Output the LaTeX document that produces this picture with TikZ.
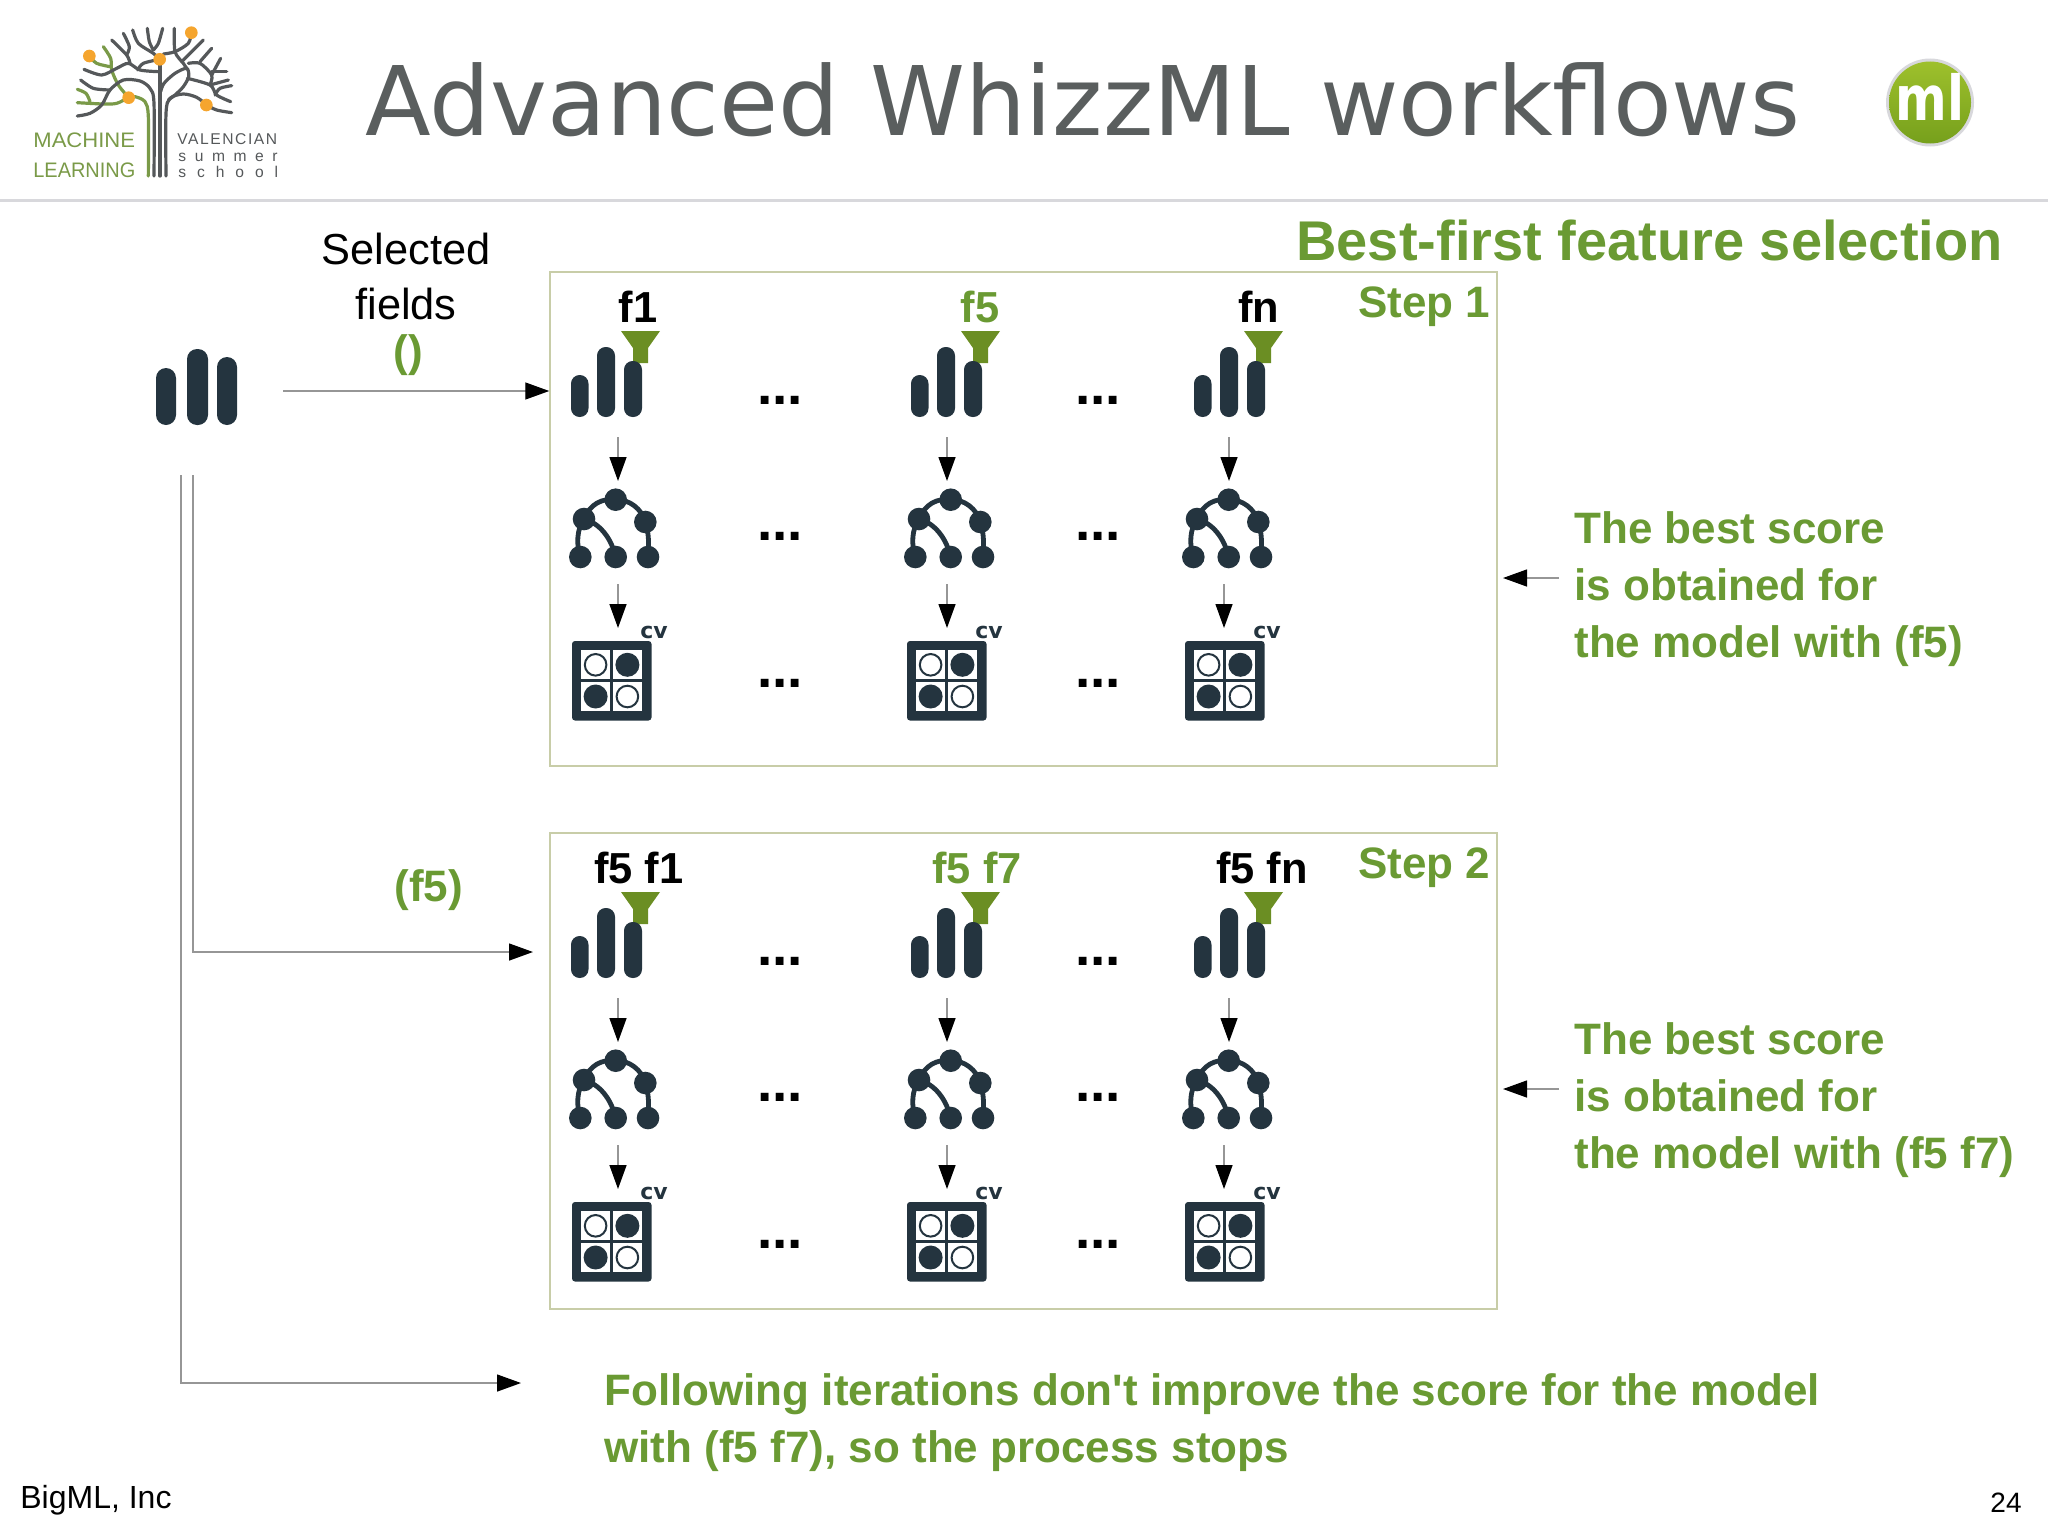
\documentclass[tikz,border=0pt]{standalone}
\usepackage{fontspec}
\setmainfont{Liberation Sans}
\newfontfamily\titlefont{DejaVu Sans}
\usetikzlibrary{arrows.meta,fit}
\definecolor{bmlgreen}{RGB}{106,154,51}
\definecolor{funnelgreen}{RGB}{107,142,35}
\definecolor{icondark}{RGB}{36,52,63}
\definecolor{framecolor}{RGB}{200,205,168}
\definecolor{titlegrey}{RGB}{90,94,94}
\definecolor{rulegrey}{RGB}{216,216,220}
\definecolor{flowgrey}{RGB}{150,150,150}
\definecolor{logogreen}{RGB}{122,154,72}
\definecolor{logogrey}{RGB}{85,88,90}
\definecolor{logoorange}{RGB}{245,165,46}
\definecolor{badgetop}{RGB}{158,192,44}
\definecolor{badgelow}{RGB}{118,160,28}
\tikzset{
  barsicon/.pic={
    \fill[funnelgreen] (50,-16) -- (89,-16) -- (77,1) -- (77,16) -- (62,16) -- (62,1) -- cycle;
    \fill[icondark,rounded corners=4.3pt] (0,28) rectangle (17.5,70);
    \fill[icondark,rounded corners=4.3pt] (26,0) rectangle (44,70);
    \fill[icondark,rounded corners=4.3pt] (53,14) rectangle (71,70);
  },
  treeicon/.pic={
    \draw[icondark,line width=2.4pt]
      (15,30) .. controls (21,15) and (33,9) .. (46.7,10.7)
      (46.7,10.7) .. controls (60,10) and (73,20) .. (76.3,33)
      (76.3,33) .. controls (80,44) and (80,56) .. (79,68)
      (15,30) .. controls (8,40) and (7,55) .. (11.3,68)
      (15,30) .. controls (30,34) and (42,48) .. (46.7,68);
    \foreach \cx/\cy in {46.7/10.7,15/30,76.3/33,11.3/68,46.7/68,79/68}
      \fill[icondark] (\cx,\cy) circle[radius=11.3];
  },
  cvicon/.pic={
    \fill[icondark,rounded corners=1.5pt] (0,0) rectangle (79.5,79.5);
    \fill[white] (9,9.3) rectangle (38.3,38.3);
    \fill[white] (40.7,9.3) rectangle (70,38.3);
    \fill[white] (9,41) rectangle (38.3,70);
    \fill[white] (40.7,41) rectangle (70,70);
    \draw[icondark,line width=1pt] (23.6,23.8) circle[radius=10.8];
    \fill[icondark] (55.4,23.8) circle[radius=12];
    \fill[icondark] (23.6,55.5) circle[radius=12];
    \draw[icondark,line width=1pt] (55.4,55.5) circle[radius=10.8];
  }
}

\begin{document}
\begin{tikzpicture}[
    x=0.5pt,y=-0.5pt,
    txt/.style={inner sep=0pt,anchor=base west},
    flow/.style={
      draw=flowgrey,
      line width=0.7pt,
      -{Triangle[length=12pt,width=8.5pt,black]}
    },
    stepframe/.style={draw=framecolor,line width=0.75pt,inner sep=0pt},
    fieldlabel/.style={inner sep=0pt,anchor=base,font=\fontsize{21.7}{25}\selectfont\bfseries},
    dots/.style={inner sep=0pt,anchor=base,font=\fontsize{27.5}{32}\selectfont\bfseries},
    greenbold/.style={inner sep=0pt,text=bmlgreen,font=\fontsize{22}{28.5}\selectfont\bfseries},
    treeline/.style={line width=1.6pt,logogrey,line cap=round},
    greenline/.style={line width=1.6pt,logogreen,line cap=round},
    smallmark/.style={inner sep=0pt,anchor=base west,text=icondark,font=\fontsize{11}{12}\titlefont\bfseries}
  ]
  \useasboundingbox (0,0) rectangle (2048,1536);

  % Header
  \draw[rulegrey,line width=1.2pt] (0,200.5) -- (2048,200.5);
  \node[txt,text=titlegrey,font=\fontsize{48}{56}\titlefont] (title) at (365,135)
    {Advanced WhizzML workflows};
  \node[txt,text=bmlgreen,font=\fontsize{28}{34}\selectfont\bfseries] (subtitle) at (1296,260)
    {Best-first feature selection};

  % Logo, left
  \begin{scope}[shift={(60,20)},x=0.16667pt,y=-0.16667pt]
    \draw[greenline] plot[smooth] coordinates {(265,468) (265,290) (255,245) (225,230) (206,233) (170,250) (130,252) (52,248)};
    \draw[greenline] plot[smooth] coordinates {(52,208) (78,220) (90,245)};
    \draw[greenline] plot[smooth] coordinates {(130,80) (152,115) (155,150) (175,195) (206,233)};
    \draw[greenline] plot[smooth] coordinates {(88,108) (110,130) (150,140)};
    \draw[treeline] plot[smooth] coordinates {(282,468) (282,250) (270,205) (240,183) (190,180) (150,210) (125,255) (90,280) (52,288)};
    \draw[treeline] plot[smooth] coordinates {(62,180) (100,205) (150,210)};
    \draw[treeline] plot[smooth] coordinates {(72,148) (125,165) (170,145) (205,130) (240,150) (295,155)};
    \draw[treeline] (300,468) -- (300,125);
    \draw[treeline] plot[smooth] coordinates {(318,468) (318,280) (330,235) (370,222) (410,232) (440,255)};
    \draw[treeline] plot[smooth] coordinates {(302,215) (312,190) (345,160) (380,145) (386,170) (370,200) (345,225) (325,240)};
    \draw[treeline] plot[smooth] coordinates {(382,175) (450,195) (470,225) (512,245)};
    \draw[treeline] plot[smooth] coordinates {(343,25) (345,95) (370,130) (382,148)};
    \draw[treeline] plot[smooth] coordinates {(310,102) (345,95) (385,70) (394,38)};
    \draw[treeline] (430,60) -- (365,125);
    \draw[treeline] (455,85) -- (420,125);
    \draw[treeline] plot[smooth] coordinates {(385,130) (420,130) (455,165) (450,195)};
    \draw[treeline] (455,155) -- (500,155);
    \draw[treeline] (482,115) -- (455,165);
    \draw[treeline] (450,195) -- (505,180);
    \draw[treeline] plot[smooth] coordinates {(465,225) (480,205) (515,197)};
    \draw[treeline] plot[smooth] coordinates {(439,255) (470,270) (515,278)};
    \draw[treeline] plot[smooth] coordinates {(262,25) (268,65) (280,90)};
    \draw[treeline] plot[smooth] coordinates {(308,25) (295,70) (280,90)};
    \draw[treeline] plot[smooth] coordinates {(218,30) (235,70) (280,100) (299,118)};
    \draw[treeline] plot[smooth] coordinates {(299,118) (250,130) (233,150)};
    \draw[treeline] plot[smooth] coordinates {(155,60) (200,105) (210,130)};
    \draw[treeline] plot[smooth] coordinates {(190,40) (208,80) (200,105)};
    \foreach \cx/\cy in {88/108,299/118,394/38,206/233,439/255}
      \fill[logoorange] (\cx,\cy) circle[radius=19];
  \end{scope}
  \node[txt,text=logogreen,xscale=1.05,font=\fontsize{10.5}{12}\selectfont] (logoa) at (33,148) {MACHINE};
  \node[txt,text=logogreen,xscale=0.95,font=\fontsize{10.5}{12}\selectfont] (logob) at (33,177) {LEARNING};
  \node[txt,text=logogrey,font=\fontsize{7.8}{9}\selectfont\addfontfeature{LetterSpace=10}] (logoc) at (177,144) {VALENCIAN};
  \node[txt,text=logogrey,font=\fontsize{7.8}{9}\selectfont\addfontfeature{LetterSpace=55}] (logod) at (178,162) {summer};
  \node[txt,text=logogrey,font=\fontsize{7.8}{9}\selectfont\addfontfeature{LetterSpace=70}] (logoe) at (178,177) {school};

  % Logo, right
  \fill[rulegrey] (1930,102.5) circle[radius=44];
  \shade[top color=badgetop,bottom color=badgelow] (1930,102.5) circle[radius=41];
  \node[inner sep=0pt,anchor=base,text=white,xscale=0.8,font=\fontsize{31}{34}\titlefont\bfseries] (badge) at (1930,120) {ml};

  % Source on the left
  \fill[icondark,rounded corners=5pt] (156,368) rectangle (176,425);
  \fill[icondark,rounded corners=5pt] (187,349) rectangle (208,425);
  \fill[icondark,rounded corners=5pt] (217,357) rectangle (237,425);
  \node[inner sep=0pt,anchor=base,font=\fontsize{21.7}{27}\selectfont] (sela) at (406,264) {Selected};
  \node[inner sep=0pt,anchor=base,font=\fontsize{21.7}{27}\selectfont] (selb) at (406,319) {fields};
  \node[inner sep=0pt,anchor=base,text=bmlgreen,font=\fontsize{22}{27}\selectfont\bfseries] (selc) at (408,366) {()};
  \node[txt,text=bmlgreen,font=\fontsize{22}{27}\selectfont\bfseries] (selstep) at (394,901) {(f5)};

  % Frames
  \node[stepframe,fit={(550,272)(1497,766)}] (stepA) {};
  \node[stepframe,fit={(550,833)(1497,1309)}] (stepB) {};
  \node[txt,text=bmlgreen,font=\fontsize{22}{27}\selectfont\bfseries] (steplabelA) at (1358,317) {Step 1};
  \node[txt,text=bmlgreen,font=\fontsize{22}{27}\selectfont\bfseries] (steplabelB) at (1358,878) {Step 2};

  % Columns
  \foreach \row/\dy/\la/\lb/\lc/\xa/\xb/\xc in {
      A/0/f1/f5/fn/638/980/1259,
      B/561/f5 f1/f5 f7/f5 fn/639/977/1262} {
    \begin{scope}[shift={(0,\dy)}]
      \node[fieldlabel] (label\row1) at (\xa,322) {\la};
      \node[fieldlabel,text=bmlgreen] (label\row2) at (\xb,322) {\lb};
      \node[fieldlabel] (label\row3) at (\xc,322) {\lc};
      \foreach \col/\xbars/\xtree/\xcv/\xup/\xlow in {
          1/571/569/572/618/618,
          2/911/904/907/947/947,
          3/1194/1182/1185/1229/1224} {
        \pic at (\xbars,347) {barsicon};
        \pic at (\xtree,489) {treeicon};
        \pic at (\xcv,641) {cvicon};
        \node[smallmark] (cv\row\col) at (\xcv+68,638) {cv};
        \coordinate (barsout\row\col) at (\xup,437);
        \coordinate (treein\row\col) at (\xup,481);
        \coordinate (treeout\row\col) at (\xlow,584);
        \coordinate (cvin\row\col) at (\xlow,628);
        \draw[flow] (barsout\row\col) -- (treein\row\col);
        \draw[flow] (treeout\row\col) -- (cvin\row\col);
      }
      \foreach \col/\xdots in {1/780,2/1098} {
        \node[dots] (dotsa\row\col) at (\xdots,404) {...};
        \node[dots] (dotsb\row\col) at (\xdots,540) {...};
        \node[dots] (dotsc\row\col) at (\xdots,687) {...};
      }
    \end{scope}
  }

  % Routing from the source
  \coordinate (srcA) at (283,391);
  \draw[flow] (srcA) -- (stepA.west |- srcA);
  \coordinate (srcB) at (193,475);
  \coordinate (arrowB) at (533,952);
  \draw[flow] (srcB) -- (srcB |- arrowB) -- (arrowB);
  \coordinate (srcC) at (181,475);
  \coordinate (arrowC) at (521,1383);
  \draw[flow] (srcC) -- (srcC |- arrowC) -- (arrowC);

  % Remarks on the right
  \node[greenbold,anchor=north west,align=left] (bestA) at (1574,511)
    {The best score\\is obtained for\\the model with (f5)};
  \node[greenbold,anchor=north west,align=left] (bestB) at (1574,1022)
    {The best score\\is obtained for\\the model with (f5 f7)};
  \coordinate (fromA) at (1559,578);
  \coordinate (toA) at (1503,578);
  \draw[flow] (fromA) -- (toA);
  \coordinate (fromB) at (1559,1089);
  \coordinate (toB) at (1503,1089);
  \draw[flow] (fromB) -- (toB);

  % Bottom
  \node[greenbold,anchor=north west,align=left] (stopnote) at (604,1373)
    {Following iterations don\textquotesingle t improve the score for the model\\with (f5 f7), so the process stops};
  \node[txt,font=\fontsize{16}{19}\selectfont] (company) at (20,1508) {BigML, Inc};
  \node[txt,font=\fontsize{14}{17}\selectfont] (pagenum) at (1990,1512) {24};
\end{tikzpicture}
\end{document}
